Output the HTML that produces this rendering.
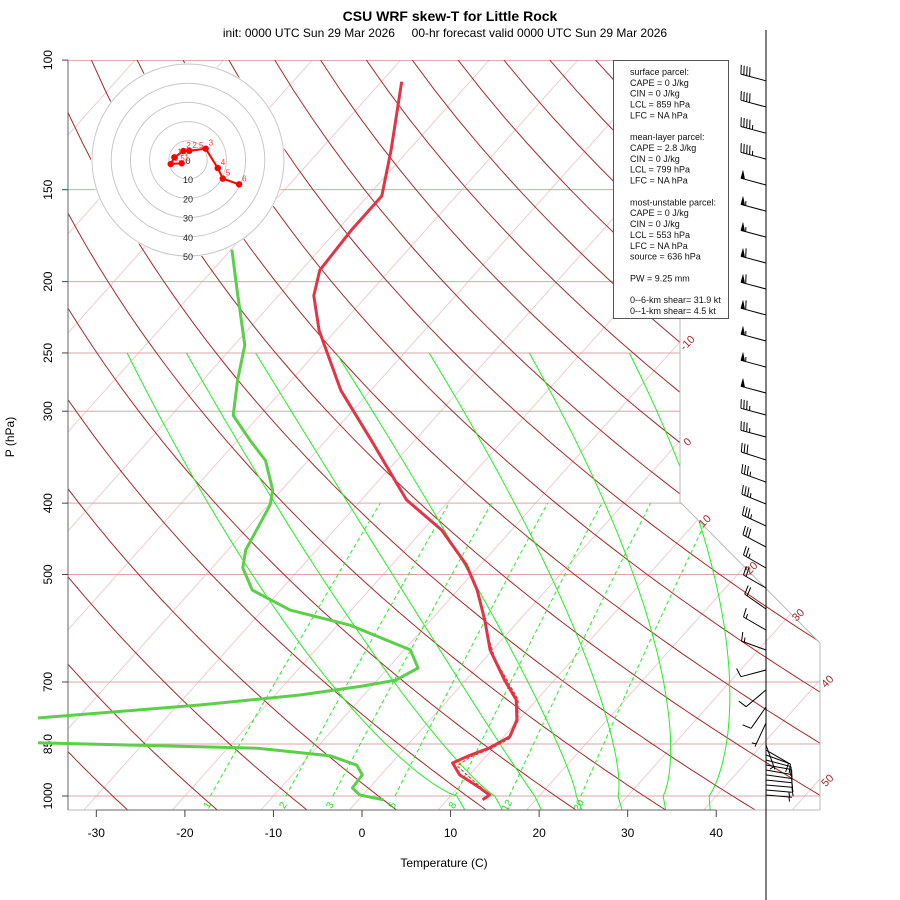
<!DOCTYPE html>
<html><head><meta charset="utf-8"><title>CSU WRF skew-T</title>
<style>
html,body{margin:0;padding:0;background:#fff;}
svg{display:block;font-family:"Liberation Sans",sans-serif;}
</style></head>
<body>
<svg id="chart" width="900" height="900" viewBox="0 0 900 900" xmlns="http://www.w3.org/2000/svg">
<defs>
<clipPath id="plotclip"><polygon points="68,60 680,60 680,502 820,643 820,810 68,810"/></clipPath>
<clipPath id="traceclip"><rect x="38" y="40" width="862" height="800"/></clipPath>
</defs>
<rect x="0" y="0" width="900" height="900" fill="#fff"/>
<text x="450" y="21" text-anchor="middle" font-size="14" font-weight="bold">CSU WRF skew-T for Little Rock</text>
<text x="445" y="37" text-anchor="middle" font-size="12" style="white-space:pre" xml:space="preserve">init: 0000 UTC Sun 29 Mar 2026     00-hr forecast valid 0000 UTC Sun 29 Mar 2026</text>
<g id="bg" clip-path="url(#plotclip)"></g>
<g id="frame"></g>
<g id="traces" clip-path="url(#traceclip)"></g>
<g id="hodo"></g>
<g id="barbs"></g>
<g id="legend"></g>
<text x="444" y="867" text-anchor="middle" font-size="12">Temperature (C)</text>
<text x="14" y="437" text-anchor="middle" font-size="12" transform="rotate(-90 14 437)">P (hPa)</text>
</svg>
<script>
// ---- data ----
const tempP = [107,132.5,153,170,193,209,233,281,328,396,435,485,525,577,633,696,740,788,831,861,880,902,936,975,997,1012];
const tempT = [-67.7,-62.0,-58.4,-58.4,-57.9,-56.0,-51.9,-43.4,-35.0,-24.9,-17.9,-11.6,-7.8,-3.9,-0.3,4.4,7.7,9.8,10.7,9.5,8.1,6.9,8.9,12.5,14.3,14.0];
const dewP = [181,205,244,272,304,328,350,384,402,428,463,490,525,559,586,633,670,696,709,729,752,783,800,830,847,861,882,908,936,975,997,1012];
const dewT = [-69.9,-65.3,-58.8,-56.1,-53.0,-48.7,-44.8,-41.0,-39.8,-39.0,-38.0,-36.5,-33.2,-26.9,-18.6,-9.3,-6.6,-7.9,-11.1,-17.2,-27.4,-44.2,-60,-60,-41.6,-16.6,-7.6,-3.7,-2.1,-1.9,-0.35,2.8];
const parcelP = [600,653,707,740,790,835,862,885,910,945,991];
const parcelT = [-2.4,1.3,5.5,7.9,10.0,10.9,9.8,8.3,7.7,10.4,13.9];
const pressureTicks = [100,150,200,250,300,400,500,700,850,1000];
const tempTicks = [-30,-20,-10,0,10,20,30,40];
const isoLabels = [-10,0,10,20,30,40,50];
const mixRatios = [1,2,3,5,8,12,20];
const moistT1000 = [10.7,15,19.5,24.2,28.9,34.0,39.2];
const moistT250 = [-71.3,-64.6,-56.8,-47.7,-37.2,-25.9,-14.6];
const hodoU = [-3.3,-9.0,-7.1,-2.4,0.7,9.2,15.5,18.1,26.6];
const hodoV = [-1.7,-2.1,1.4,4.7,4.8,5.9,-4.2,-9.7,-12.7];
const hodoLabels = ['1','0.5','1.5','2','2.5','3','4','5','6'];
const hodoRings = [10,20,30,40,50];
const barbP = [106.7,115.8,125.7,136.3,147.8,160.4,174.0,188.7,204.7,222.0,240.8,261.3,283.4,303.6,325.2,349.5,374.5,401.0,429.6,458.8,490.0,521.6,557.1,594.9,633.3,674.1,717.6,757.0,795.9,852.5,866.2,879.7,893.4,907.6,921.8,936.2,951.1,966.1,981.4,996.9];
const barbSpd = [40,40,45,45,50,55,55,60,60,60,55,55,50,35,35,30,35,35,35,30,25,20,20,15,15,10,10,10,5,5,10,10,10,10,10,10,10,10,5,5];
const barbDir = [285,285,285,285,285,285,285,285,285,285,285,285,285,285,285,288,290,292,295,298,300,300,305,300,290,255,230,215,205,160,120,110,105,100,100,98,96,95,95,95];
const legendLines = ['surface parcel:','CAPE = 0 J/kg','CIN = 0 J/kg','LCL = 859 hPa','LFC = NA hPa','','mean-layer parcel:','CAPE = 2.8 J/kg','CIN = 0 J/kg','LCL = 799 hPa','LFC = NA hPa','','most-unstable parcel:','CAPE = 0 J/kg','CIN = 0 J/kg','LCL = 553 hPa','LFC = NA hPa','source = 636 hPa','','PW =  9.25 mm','','0--6-km shear= 31.9 kt','0--1-km shear= 4.5 kt'];

// ---- axes ----
const NS='http://www.w3.org/2000/svg';
const X0=362, SX=8.856, SKEW=0.895, Y1000=796, SY=319.6;
function yP(p){return Y1000 + SY*Math.log(p/1000);}
function xT(T,p){return X0 + SX*T + SKEW*(Y1000 - yP(p));}
function el(tag,attrs,parent){const e=document.createElementNS(NS,tag);for(const k in attrs)e.setAttribute(k,attrs[k]);parent.appendChild(e);return e;}
function pathFrom(pts){return pts.map((q,i)=>(i?'L':'M')+q[0].toFixed(1)+','+q[1].toFixed(1)).join('');}
function rightEdge(y){if(y<=502)return 680;if(y<=643)return 680+(y-502)*140/141;return 820;}
const bg=document.getElementById('bg');
const frame=document.getElementById('frame');
const traces=document.getElementById('traces');

// isotherms
for(let T=-130;T<=50;T+=10){
  const pts=[[xT(T,1050),yP(1050)],[xT(T,100),yP(100)]];
  const e=el('path',{d:pathFrom(pts),stroke:'#f2cccc','stroke-width':1,fill:'none'},bg);
  
  
}
// pressure lines
pressureTicks.forEach(p=>{
  const y=yP(p);
  const e=el('line',{x1:68,y1:y,x2:rightEdge(y),y2:y,stroke:p===100?'#c08080':'#d9a6a6','stroke-width':1},bg);
  
  
});
// dry adiabats
for(let th=205;th<=485;th+=10){
  const pts=[];
  for(let p=1050;p>=100;p-=10){pts.push([xT(th*Math.pow(p/1000,0.286)-273.15,p),yP(p)]);}
  const e=el('path',{d:pathFrom(pts),stroke:'#a52a2a','stroke-width':1,fill:'none'},bg);
  
  
}
// moist adiabats
const L250=Math.log(0.25);
moistT1000.forEach((T0,i)=>{
  const T1=moistT250[i];
  const ex=0.85+0.45*(T0-10.7)/28.5;
  const pts=[];
  for(let p=1050;p>=250;p-=10){
    const r=Math.log(p/1000)/L250;
    const f=r>=0?Math.pow(r,ex):r*0.9;
    pts.push([xT(T0+(T1-T0)*f,p),yP(p)]);
  }
  const e=el('path',{d:pathFrom(pts),stroke:'#22ee22','stroke-width':1,fill:'none'},bg);
  
  
});
// mixing ratio lines
function tdFromW(w,p){const es=w*p/(622+w);const a=Math.log(es/6.112);return 243.5*a/(17.67-a);}
mixRatios.forEach(w=>{
  const pts=[];
  for(let p=1000;p>=400;p-=20)pts.push([xT(tdFromW(w,p),p),yP(p)]);
  const e=el('path',{d:pathFrom(pts),stroke:'#22ee22','stroke-width':1,fill:'none','stroke-dasharray':'4,3'},bg);
  
  
  const lx=xT(tdFromW(w,1025),1025)+4, ly=yP(1025)+3;
  const t=el('text',{x:lx,y:ly,'font-size':10,fill:'#22dd22','text-anchor':'middle',transform:`rotate(-60 ${lx} ${ly})`},bg);
  t.textContent=w;
  
  
});
// frame
const fr=el('polyline',{points:'680,60 680,502 820,643 820,810',fill:'none',stroke:'#b8b8b8','stroke-width':1},frame);


const bl=el('line',{x1:68,y1:810,x2:820,y2:810,stroke:'#b8b8b8','stroke-width':1},frame);


const ya=el('line',{x1:68,y1:60,x2:68,y2:810,stroke:'#666','stroke-width':1},frame);


const xa=el('line',{x1:X0+SX*(-30),y1:810,x2:X0+SX*40,y2:810,stroke:'#666','stroke-width':1},frame);


pressureTicks.forEach(p=>{
  const y=yP(p);
  const tk=el('line',{x1:62,y1:y,x2:68,y2:y,stroke:'#444'},frame);
  
  
  const t=el('text',{x:52,y:y,'font-size':12,'text-anchor':'middle',transform:`rotate(-90 52 ${y})`},frame);
  t.textContent=p;
  
  
});
tempTicks.forEach(T=>{
  const x=X0+SX*T;
  const tk=el('line',{x1:x,y1:810,x2:x,y2:817,stroke:'#444'},frame);
  
  
  const t=el('text',{x:x,y:837,'font-size':12,'text-anchor':'middle'},frame);
  t.textContent=T;
  
  
});
// isotherm labels at the boundary
isoLabels.forEach(T=>{
  let yy=null;
  for(let y=810;y>=60;y-=0.5){
    const p=1000*Math.exp((y-Y1000)/SY);
    if(xT(T,p)>=rightEdge(y)){yy=y;break;}
  }
  if(yy===null)return;
  const lx=rightEdge(yy)+10, ly=yy+4;
  const t=el('text',{x:lx,y:ly,'font-size':11,fill:'#a52a2a','text-anchor':'middle',transform:`rotate(-45 ${lx} ${ly})`},frame);
  t.textContent=T;
  
  
});
// traces
function tracePts(P,T){return P.map((p,i)=>[xT(T[i],p),yP(p)]);}
const dew=el('path',{d:pathFrom(tracePts(dewP,dewT)),stroke:'#5ccf4a','stroke-width':3,fill:'none','stroke-linejoin':'round'},traces);


const par=el('path',{d:pathFrom(tracePts(parcelP,parcelT)),stroke:'#ff2020','stroke-width':1,fill:'none','stroke-dasharray':'3,2'},traces);


const tmp=el('path',{d:pathFrom(tracePts(tempP,tempT)),stroke:'#e23447','stroke-width':3,fill:'none','stroke-linejoin':'round'},traces);



// hodograph
const hodo=document.getElementById('hodo');
const HX=188, HY=160, HS=1.92;
const hb=el('circle',{cx:HX,cy:HY,r:50*HS+1,fill:'#fff',stroke:'none'},hodo);


hodoRings.forEach(r=>{
  const c=el('circle',{cx:HX,cy:HY,r:r*HS,fill:'none',stroke:'#c8c8c8','stroke-width':1},hodo);
  
  
});
[0].concat(hodoRings).forEach(r=>{
  const t=el('text',{x:HX,y:HY+r*HS+4,'font-size':9,'text-anchor':'middle',fill:'#222'},hodo);
  t.textContent=r;
  
  
});
const hpts=hodoU.map((u,i)=>[HX+u*HS,HY-hodoV[i]*HS]);
const hl=el('path',{d:pathFrom(hpts),stroke:'#ff0000','stroke-width':2,fill:'none'},hodo);


hpts.forEach((q,i)=>{
  const c=el('circle',{cx:q[0],cy:q[1],r:3.2,fill:'#ff0000'},hodo);
  
  
  const t=el('text',{x:q[0]+3,y:q[1]-3,'font-size':8,fill:'#ff3030'},hodo);
  t.textContent=hodoLabels[i];
  
  
});

// wind barbs
const barbs=document.getElementById('barbs');
const BX=766;
const ax=el('line',{x1:BX,y1:30,x2:BX,y2:900,stroke:'#000','stroke-width':1},barbs);


barbP.forEach((p,i)=>{
  const y0=yP(p), d=barbDir[i]*Math.PI/180, spd=barbSpd[i];
  const sx=Math.sin(d), sy=-Math.cos(d), L=26;
  const tx=BX+sx*L, ty=y0+sy*L;
  const px=-sy, py=sx;
  let dd=`M${BX},${y0.toFixed(1)}L${tx.toFixed(1)},${ty.toFixed(1)}`;
  let rem=Math.round(spd/5)*5, pos=0, fill='';
  while(rem>=50){
    const ax1=tx-sx*pos, ay1=ty-sy*pos, ax2=tx-sx*(pos+4), ay2=ty-sy*(pos+4);
    fill+=`M${ax1.toFixed(1)},${ay1.toFixed(1)}L${(ax1+px*8).toFixed(1)},${(ay1+py*8).toFixed(1)}L${ax2.toFixed(1)},${ay2.toFixed(1)}Z`;
    pos+=5; rem-=50;
  }
  while(rem>=10){
    const bx=tx-sx*pos, by=ty-sy*pos;
    dd+=`M${bx.toFixed(1)},${by.toFixed(1)}l${(px*9+sx*2).toFixed(1)},${(py*9+sy*2).toFixed(1)}`;
    pos+=3; rem-=10;
  }
  if(rem>=5){
    if(pos===0)pos=3;
    const bx=tx-sx*pos, by=ty-sy*pos;
    dd+=`M${bx.toFixed(1)},${by.toFixed(1)}l${(px*4.5+sx*1).toFixed(1)},${(py*4.5+sy*1).toFixed(1)}`;
  }
  const b=el('path',{d:dd,stroke:'#000','stroke-width':1,fill:'none'},barbs);
  
  
  if(fill){
    const f=el('path',{d:fill,fill:'#000',stroke:'#000','stroke-width':0.5},barbs);
    
    
  }
});

// legend
const lg=document.getElementById('legend');
const lb=el('rect',{x:613.5,y:60.5,width:115,height:258,fill:'#fff',stroke:'#555','stroke-width':1},lg);


legendLines.forEach((s,i)=>{
  if(!s)return;
  const t=el('text',{x:630,y:75+i*10.86,'font-size':9,fill:'#111'},lg);
  t.textContent=s;
  
  
});
</script>
</body></html>
